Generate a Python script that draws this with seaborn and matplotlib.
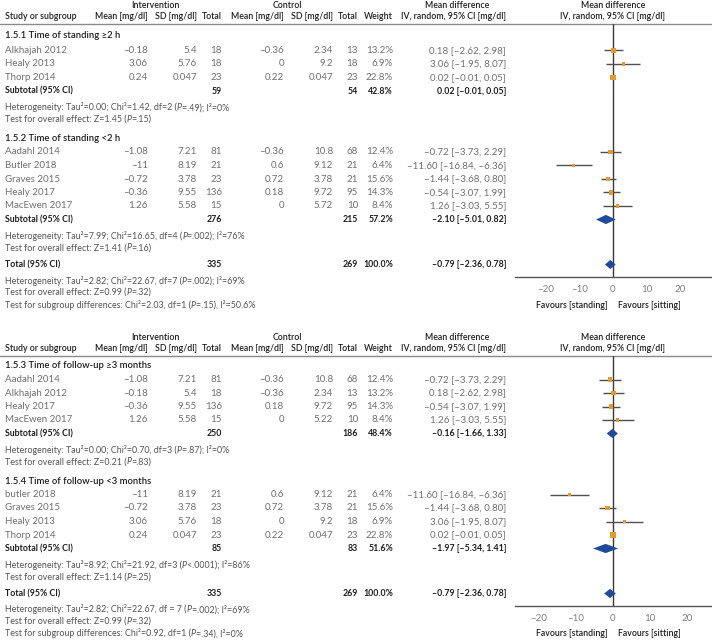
import numpy as np
import pandas as pd
import matplotlib
matplotlib.use("Agg")
import matplotlib.pyplot as plt
import seaborn as sns

sns.set_theme(style="white")
plt.rcParams['font.family'] = ['Lato', 'DejaVu Sans']

# ------------------------------------------------------------------ data
# Panel A, subgroup 1.5.1 (time of standing >=2 h)
a1_title = "1.5.1 Time of standing \u22652 h"
a1_names = ["Alkhajah 2012", "Healy 2013", "Thorp 2014"]
a1_int_mean = [-0.18, 3.06, 0.24]
a1_int_sd = [5.4, 5.76, 0.047]
a1_int_n = [18, 18, 23]
a1_ctl_mean = [-0.36, 0, 0.22]
a1_ctl_sd = [2.34, 9.2, 0.047]
a1_ctl_n = [13, 18, 23]
a1_weight = [13.2, 6.9, 22.8]
a1_md = [0.18, 3.06, 0.02]
a1_lo = [-2.62, -1.95, -0.01]
a1_hi = [2.98, 8.07, 0.05]
a1_sub = dict(n_int=59, n_ctl=54, weight=42.8, md=0.02, lo=-0.01, hi=0.05)
a1_stats = ["Heterogeneity: Tau\u00b2=0.00; Chi\u00b2=1.42, df=2 ($P$=.49); I\u00b2=0%",
            "Test for overall effect: Z=1.45 ($P$=.15)"]

# Panel A, subgroup 1.5.2 (time of standing <2 h)
a2_title = "1.5.2 Time of standing <2 h"
a2_names = ["Aadahl 2014", "Butler 2018", "Graves 2015", "Healy 2017", "MacEwen 2017"]
a2_int_mean = [-1.08, -11, -0.72, -0.36, 1.26]
a2_int_sd = [7.21, 8.19, 3.78, 9.55, 5.58]
a2_int_n = [81, 21, 23, 136, 15]
a2_ctl_mean = [-0.36, 0.6, 0.72, 0.18, 0]
a2_ctl_sd = [10.8, 9.12, 3.78, 9.72, 5.72]
a2_ctl_n = [68, 21, 21, 95, 10]
a2_weight = [12.4, 6.4, 15.6, 14.3, 8.4]
a2_md = [-0.72, -11.60, -1.44, -0.54, 1.26]
a2_lo = [-3.73, -16.84, -3.68, -3.07, -3.03]
a2_hi = [2.29, -6.36, 0.80, 1.99, 5.55]
a2_sub = dict(n_int=276, n_ctl=215, weight=57.2, md=-2.10, lo=-5.01, hi=0.82)
a2_stats = ["Heterogeneity: Tau\u00b2=7.99; Chi\u00b2=16.65, df=4 ($P$=.002); I\u00b2=76%",
            "Test for overall effect: Z=1.41 ($P$=.16)"]

a_total = dict(n_int=335, n_ctl=269, weight=100.0, md=-0.79, lo=-2.36, hi=0.78)
a_total_stats = ["Heterogeneity: Tau\u00b2=2.82; Chi\u00b2=22.67, df=7 ($P$=.002); I\u00b2=69%",
                 "Test for overall effect: Z=0.99 ($P$=.32)",
                 "Test for subgroup differences: Chi\u00b2=2.03, df=1 ($P$=.15), I\u00b2=50.6%"]

# Panel B, subgroup 1.5.3 (follow-up >=3 months)
b1_title = "1.5.3 Time of follow-up \u22653 months"
b1_names = ["Aadahl 2014", "Alkhajah 2012", "Healy 2017", "MacEwen 2017"]
b1_int_mean = [-1.08, -0.18, -0.36, 1.26]
b1_int_sd = [7.21, 5.4, 9.55, 5.58]
b1_int_n = [81, 18, 136, 15]
b1_ctl_mean = [-0.36, -0.36, 0.18, 0]
b1_ctl_sd = [10.8, 2.34, 9.72, 5.22]
b1_ctl_n = [68, 13, 95, 10]
b1_weight = [12.4, 13.2, 14.3, 8.4]
b1_md = [-0.72, 0.18, -0.54, 1.26]
b1_lo = [-3.73, -2.62, -3.07, -3.03]
b1_hi = [2.29, 2.98, 1.99, 5.55]
b1_sub = dict(n_int=250, n_ctl=186, weight=48.4, md=-0.16, lo=-1.66, hi=1.33)
b1_stats = ["Heterogeneity: Tau\u00b2=0.00; Chi\u00b2=0.70, df=3 ($P$=.87); I\u00b2=0%",
            "Test for overall effect: Z=0.21 ($P$=.83)"]

# Panel B, subgroup 1.5.4 (follow-up <3 months)
b2_title = "1.5.4 Time of follow-up <3 months"
b2_names = ["butler 2018", "Graves 2015", "Healy 2013", "Thorp 2014"]
b2_int_mean = [-11, -0.72, 3.06, 0.24]
b2_int_sd = [8.19, 3.78, 5.76, 0.047]
b2_int_n = [21, 23, 18, 23]
b2_ctl_mean = [0.6, 0.72, 0, 0.22]
b2_ctl_sd = [9.12, 3.78, 9.2, 0.047]
b2_ctl_n = [21, 21, 18, 23]
b2_weight = [6.4, 15.6, 6.9, 22.8]
b2_md = [-11.60, -1.44, 3.06, 0.02]
b2_lo = [-16.84, -3.68, -1.95, -0.01]
b2_hi = [-6.36, 0.80, 8.07, 0.05]
b2_sub = dict(n_int=85, n_ctl=83, weight=51.6, md=-1.97, lo=-5.34, hi=1.41)
b2_stats = ["Heterogeneity: Tau\u00b2=8.92; Chi\u00b2=21.92, df=3 ($P$<.0001); I\u00b2=86%",
            "Test for overall effect: Z=1.14 ($P$=.25)"]

b_total = dict(n_int=335, n_ctl=269, weight=100.0, md=-0.79, lo=-2.36, hi=0.78)
b_total_stats = ["Heterogeneity: Tau\u00b2=2.82; Chi\u00b2=22.67, df = 7 ($P$=.002); I\u00b2=69%",
                 "Test for overall effect: Z=0.99 ($P$=.32)",
                 "Test for subgroup differences: Chi\u00b2=0.92, df=1 ($P$=.34), I\u00b2=0%"]

tick_values = [-20, -10, 0, 10, 20]
tick_labels = ["\u201320", "\u201310", "0", "10", "20"]

# ------------------------------------------------------------------ style
W, H = 712, 641
ORANGE = "#E39B2E"
BLUE = "#1E4B9B"
GREY_TXT = "#707070"
STAT_TXT = "#555555"
DARK = "#1e1e1e"
CI_COL = "#505050"
FS = 7.0      # data rows
FS_H = 6.3    # headers / bold rows
FS_S = 6.4    # statistics lines


def fmt(v):
    return f"{v:g}".replace("-", "\u2013")


def fmt2(v):
    return f"{v:.2f}".replace("-", "\u2013")


def ci_text(md, lo, hi):
    return f"{fmt2(md)} [{fmt2(lo)}, {fmt2(hi)}]"


def group_frame(names, im, isd, inn, cm, csd, cn, w, md, lo, hi):
    return pd.DataFrame(dict(name=names, int_mean=im, int_sd=isd, int_n=inn,
                             ctl_mean=cm, ctl_sd=csd, ctl_n=cn, weight=w,
                             md=md, lo=lo, hi=hi))


fig = plt.figure(figsize=(W / 100, H / 100), dpi=100)
bg = fig.add_axes([0, 0, 1, 1])
bg.set_xlim(0, W)
bg.set_ylim(H, 0)
bg.axis("off")

# column anchors (pixels)
X_NAME = 5
X_IMEAN, X_ISD, X_IN = 148, 197, 222
X_CMEAN, X_CSD, X_CN = 284, 333, 358
X_W, X_CI = 393, 506
X_FOREST_L, X_ZERO = 515, 613


def txt(x, y, s, ha="left", color=GREY_TXT, weight="normal", size=FS):
    return bg.text(x, y, s, ha=ha, va="center", color=color, fontweight=weight,
                   fontsize=size)


def hdr(x, y, s, ha="left"):
    txt(x, y, s, ha=ha, color=DARK, weight="semibold", size=FS_H)


def bold(x, y, s, ha="left"):
    txt(x, y, s, ha=ha, color=DARK, weight="bold", size=FS_H)


def stats_line(x, y, s):
    """Plain text with an italic P, built from chained text pieces."""
    parts = s.split("$P$")
    pieces = [(parts[0], "normal")]
    for p in parts[1:]:
        pieces.append(("P", "italic"))
        pieces.append((p, "normal"))
    t = bg.text(x, y, pieces[0][0], ha="left", va="center", color=STAT_TXT,
                fontsize=FS_S)
    for s_, style in pieces[1:]:
        if not s_:
            continue
        t = bg.annotate(s_, xy=(1, 0), xycoords=t, ha="left", va="bottom",
                        color=STAT_TXT, fontsize=FS_S, fontstyle=style)


def draw_panel(y_line, groups, total, total_stats, xlim, first_gap=10):
    # headers
    yh1, yh2 = y_line - 18, y_line - 7.5
    hdr(155, yh1, "Intervention", ha="center")
    hdr(287, yh1, "Control", ha="center")
    hdr(457, yh1, "Mean difference", ha="center")
    hdr(X_ZERO, yh1, "Mean difference", ha="center")
    hdr(X_NAME, yh2, "Study or subgroup")
    for x, s in [(X_IMEAN, "Mean [mg/dl]"), (X_ISD, "SD [mg/dl]"), (X_IN, "Total"),
                 (X_CMEAN, "Mean [mg/dl]"), (X_CSD, "SD [mg/dl]"), (X_CN, "Total"),
                 (X_W, "Weight"), (X_CI, "IV, random, 95% CI [mg/dl]")]:
        hdr(x, yh2, s, ha="right")
    hdr(X_ZERO, yh2, "IV, random, 95% CI [mg/dl]", ha="center")
    bg.plot([0, W], [y_line, y_line], color="#8a8a8a", lw=1.0)

    study_rows = []
    summary_rows = []
    y = y_line + first_gap
    for gi, (title, df, sub, stats) in enumerate(groups):
        txt(X_NAME, y, title, color=DARK, weight="semibold", size=6.8)
        y += 13.5 + (first_gap - 10) * (gi == 0)
        for i, r in df.iterrows():
            txt(X_NAME, y, r["name"])
            txt(X_IMEAN, y, fmt(r.int_mean), ha="right")
            txt(X_ISD, y, fmt(r.int_sd), ha="right")
            txt(X_IN, y, f"{int(r.int_n)}", ha="right")
            txt(X_CMEAN, y, fmt(r.ctl_mean), ha="right")
            txt(X_CSD, y, fmt(r.ctl_sd), ha="right")
            txt(X_CN, y, f"{int(r.ctl_n)}", ha="right")
            txt(X_W, y, f"{r.weight:.1f}%", ha="right")
            txt(X_CI, y, ci_text(r.md, r.lo, r.hi), ha="right")
            study_rows.append(dict(y=y, md=r.md, lo=r.lo, hi=r.hi, weight=r.weight))
            y += 13.5
        bold(X_NAME, y, "Subtotal (95% CI)")
        bold(X_IN, y, f"{sub['n_int']}", ha="right")
        bold(X_CN, y, f"{sub['n_ctl']}", ha="right")
        bold(X_W, y, f"{sub['weight']:.1f}%", ha="right")
        bold(X_CI, y, ci_text(sub['md'], sub['lo'], sub['hi']), ha="right")
        summary_rows.append(dict(y=y, **sub))
        y += 16.5
        for si, s in enumerate(stats):
            stats_line(X_NAME, y, s)
            if si < len(stats) - 1:
                y += 12.0
        if gi < len(groups) - 1:
            y += 19
    y += 16.5
    bold(X_NAME, y, "Total (95% CI)")
    bold(X_IN, y, f"{total['n_int']}", ha="right")
    bold(X_CN, y, f"{total['n_ctl']}", ha="right")
    bold(X_W, y, f"{total['weight']:.1f}%", ha="right")
    bold(X_CI, y, ci_text(total['md'], total['lo'], total['hi']), ha="right")
    summary_rows.append(dict(y=y, **total))
    y_axis = y + 12.5
    y += 16.0
    for s in total_stats:
        stats_line(X_NAME, y, s)
        y += 12.0

    # forest axes, y in pixel rows
    ax = fig.add_axes([X_FOREST_L / W, 1 - y_axis / H, (W - X_FOREST_L) / W,
                       (y_axis - y_line) / H])
    ax.patch.set_alpha(0)
    sdf = pd.DataFrame(study_rows)
    sdf["area"] = (np.sqrt(sdf["weight"]) * 1.2 * 0.72) ** 2
    ax.hlines(sdf["y"], sdf["lo"], sdf["hi"], color=CI_COL, lw=1.0, zorder=2)
    amin, amax = sdf["area"].min(), sdf["area"].max()
    sns.scatterplot(data=sdf, x="md", y="y", size="area", sizes=(amin, amax),
                    size_norm=(amin, amax), marker="s", color=ORANGE,
                    edgecolor="none", linewidth=0, legend=False, ax=ax, zorder=3)
    hh = 4.6
    for r in summary_rows:
        ax.fill([r["lo"], r["md"], r["hi"], r["md"]],
                [r["y"], r["y"] - hh, r["y"], r["y"] + hh],
                color=BLUE, lw=0, zorder=4)
    ax.axvline(0, color="#3a3a3a", lw=1.0, zorder=1)
    ax.set_xlim(*xlim)
    ax.set_ylim(y_axis, y_line)
    ax.set_xlabel("")
    ax.set_ylabel("")
    ax.set_yticks([])
    ax.set_xticks(tick_values)
    ax.set_xticklabels(tick_labels)
    ax.tick_params(axis="x", length=0, pad=6, labelsize=FS, labelcolor="#808080")
    for side in ["top", "right", "left"]:
        ax.spines[side].set_visible(False)
    ax.spines["bottom"].set_color("#555555")
    ax.spines["bottom"].set_linewidth(1.0)
    ax.grid(False)
    yf = y_axis + 28
    hdr(608, yf, "Favours [standing]", ha="right")
    hdr(618, yf, "Favours [sitting]", ha="left")


groups_a = [
    (a1_title, group_frame(a1_names, a1_int_mean, a1_int_sd, a1_int_n, a1_ctl_mean,
                           a1_ctl_sd, a1_ctl_n, a1_weight, a1_md, a1_lo, a1_hi),
     a1_sub, a1_stats),
    (a2_title, group_frame(a2_names, a2_int_mean, a2_int_sd, a2_int_n, a2_ctl_mean,
                           a2_ctl_sd, a2_ctl_n, a2_weight, a2_md, a2_lo, a2_hi),
     a2_sub, a2_stats),
]
groups_b = [
    (b1_title, group_frame(b1_names, b1_int_mean, b1_int_sd, b1_int_n, b1_ctl_mean,
                           b1_ctl_sd, b1_ctl_n, b1_weight, b1_md, b1_lo, b1_hi),
     b1_sub, b1_stats),
    (b2_title, group_frame(b2_names, b2_int_mean, b2_int_sd, b2_int_n, b2_ctl_mean,
                           b2_ctl_sd, b2_ctl_n, b2_weight, b2_md, b2_lo, b2_hi),
     b2_sub, b2_stats),
]

draw_panel(24, groups_a, a_total, a_total_stats, (-29.0, 29.3), first_gap=11.5)
draw_panel(356, groups_b, b_total, b_total_stats, (-26.3, 26.6))

fig.savefig("out.png", dpi=100, facecolor="white")
